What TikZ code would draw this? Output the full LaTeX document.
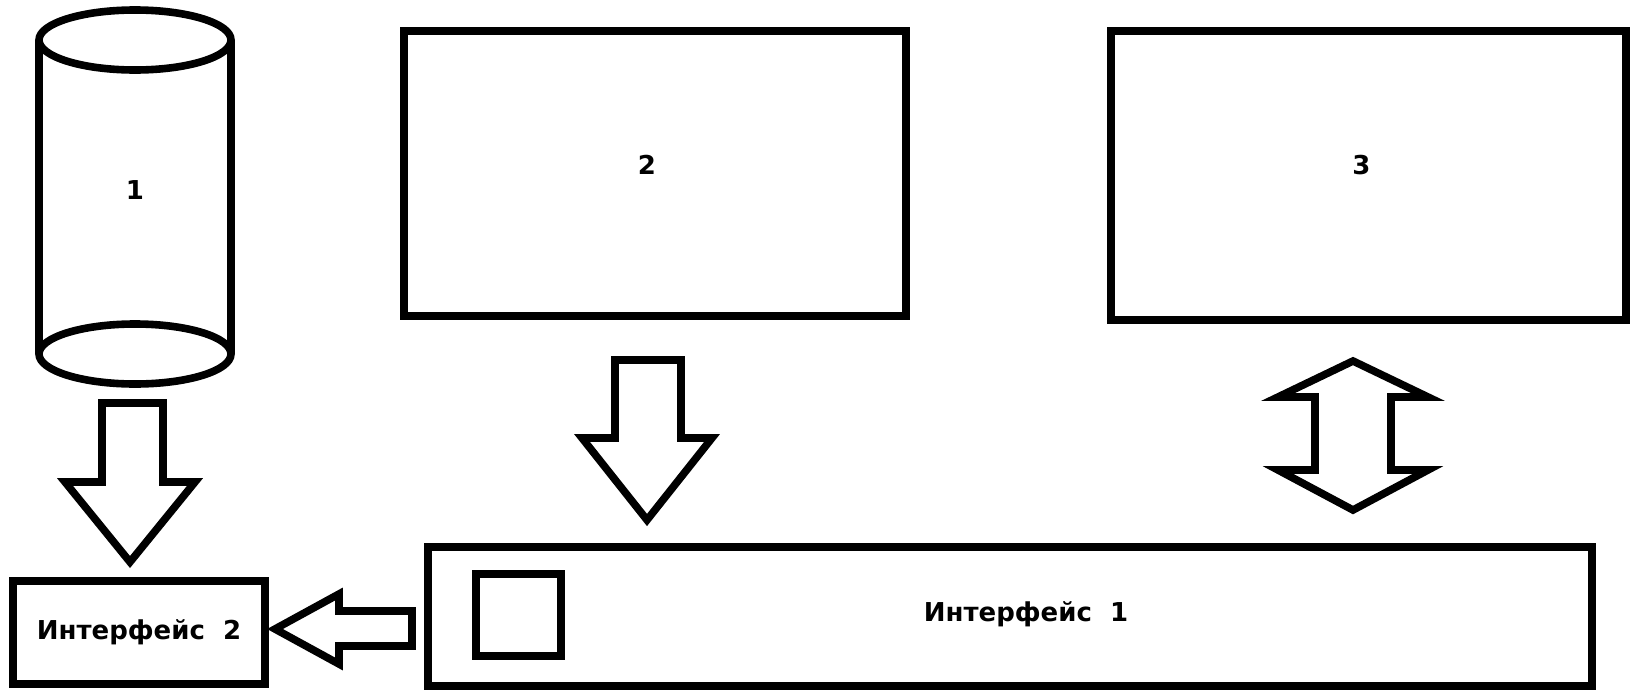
\documentclass[tikz,border=0pt]{standalone}
\usepackage{fontspec}
\setmainfont{DejaVu Sans}
\usepackage{tikz}

\begin{document}
\begin{tikzpicture}[x=0.5pt, y=-0.5pt,
    txt/.style={font=\fontsize{13}{15}\selectfont\bfseries},
    box/.style={draw, line width=4.2pt, inner sep=0pt, txt},
    fat arrow/.style={draw, line width=3.8pt, line join=miter}]
    \useasboundingbox (0,0) rectangle (1632,691);
    % Storage
    \node[txt] (Store) at (135,190) {1};
    \draw[fat arrow] (39,40) -- (39,354) (231,40) -- (231,354);
    \draw[fat arrow] (135,40) ellipse [x radius=48pt, y radius=15pt];
    \draw[fat arrow] (135,354) ellipse [x radius=48pt, y radius=15pt];
    % Blocks
    \node[box, minimum width=251pt, minimum height=142.5pt,
        label={[txt, xshift=-4pt, yshift=4.5pt]center:2}] (Block-2) at (655,173.5) {};
    \node[box, minimum width=257.5pt, minimum height=144.5pt,
        label={[txt, xshift=-3.5pt, yshift=5pt]center:3}] (Block-3) at (1368.5,175.5) {};
    % Interfaces
    \node[box, minimum width=582pt, minimum height=69.5pt,
        label={[txt, xshift=8pt, yshift=1pt]center:Интерфейс\ \ 1}] (Iface-1) at (1010,616.5) {};
    \node[box, minimum width=42.5pt, minimum height=41pt] (Slot) at (518.5,615) {};
    \node[box, minimum width=126pt, minimum height=51.5pt] (Iface-2) at (139,632.5) {Интерфейс\ \ 2};
    % Arrows
    \draw[fat arrow] (102,403) -- (163,403) -- (163,482) -- (195,482) -- (130,562)
        -- (65,482) -- (102,482) -- cycle;
    \draw[fat arrow] (615,360) -- (681,360) -- (681,438) -- (712,438) -- (647,520)
        -- (582,438) -- (615,438) -- cycle;
    \draw[fat arrow] (412,611) -- (412,646) -- (339,646) -- (339,664) -- (275,629)
        -- (339,594) -- (339,611) -- cycle;
    \draw[fat arrow] (1353,361) -- (1428,397) -- (1391,397) -- (1391,470) -- (1428,470)
        -- (1353,510) -- (1278,470) -- (1315,470) -- (1315,397) -- (1278,397) -- cycle;
\end{tikzpicture}
\end{document}
